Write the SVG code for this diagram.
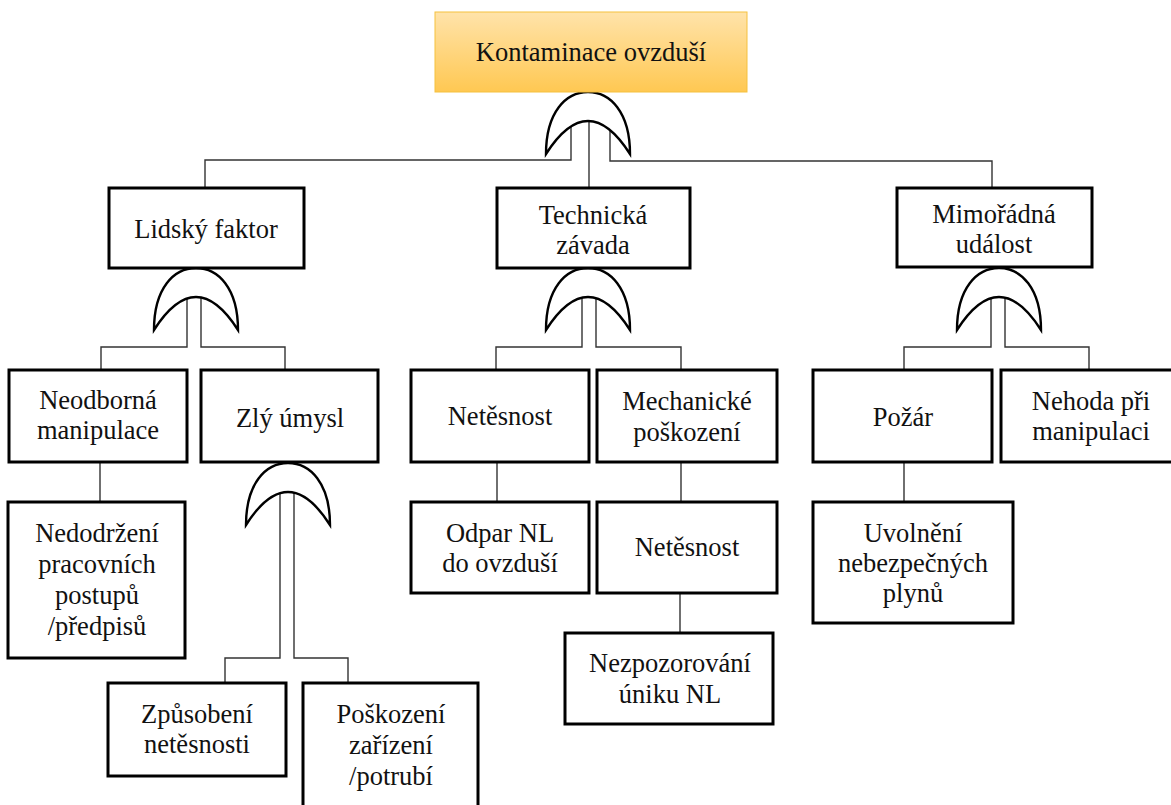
<svg xmlns="http://www.w3.org/2000/svg" xmlns:xlink="http://www.w3.org/1999/xlink" width="1171" height="805" viewBox="0 0 1171 805" font-family="Liberation Serif, DejaVu Serif, serif">
  <style>
    .box { fill: #ffffff; stroke: #000000; stroke-width: 3; }
    .top { fill: url(#topFill); stroke: #f5c13f; stroke-width: 1; }
    .lbl { font-size: 26.5px; fill: #111111; text-anchor: middle; }
    .wire { fill: none; stroke: #333333; stroke-width: 1.4; }
    .gate { fill: #ffffff; stroke: #000000; stroke-width: 2.4; stroke-linejoin: miter; }
  </style>
  <defs>
    <linearGradient id="topFill" x1="0" y1="0" x2="0" y2="1">
      <stop offset="0" stop-color="#ffe3aa"/>
      <stop offset="1" stop-color="#ffc852"/>
    </linearGradient>
    <!-- OR gate: apex at (0,0), tips at (±42, 62) -->
    <path id="orGate" class="gate" d="M -42,62 C -42,20 -22,0 0,0 C 22,0 42,20 42,62 Q 0,-4 -42,62 Z"/>
  </defs>

  <!-- connectors -->
  <g id="connectors">
    <!-- top event -->
    <polyline class="wire" points="571,126 571,160 205,160 205,188"/>
    <polyline class="wire" points="610,130 610,161 992,161 992,188"/>
    <polyline class="wire" points="589,121 589,188"/>
    <!-- Lidský faktor -->
    <polyline class="wire" points="187,299 187,347 101,347 101,370"/>
    <polyline class="wire" points="201,298 201,347 285,347 285,370"/>
    <!-- Technická závada -->
    <polyline class="wire" points="582,298 582,347 496,347 496,370"/>
    <polyline class="wire" points="596,299 596,347 681,347 681,370"/>
    <!-- Mimořádná událost -->
    <polyline class="wire" points="991,299 991,347 904,347 904,370"/>
    <polyline class="wire" points="1005,299 1005,347 1089,347 1089,370"/>
    <!-- Zlý úmysl -->
    <polyline class="wire" points="280,493 280,658 225,658 225,683"/>
    <polyline class="wire" points="294,493 294,658 348,658 348,683"/>
    <!-- single links -->
    <line class="wire" x1="100" y1="462" x2="100" y2="502"/>
    <line class="wire" x1="497" y1="462" x2="497" y2="502"/>
    <line class="wire" x1="681" y1="462" x2="681" y2="502"/>
    <line class="wire" x1="680" y1="593" x2="680" y2="633"/>
    <line class="wire" x1="904" y1="462" x2="904" y2="502"/>
  </g>

  <!-- gates -->
  <g id="gates">
    <use xlink:href="#orGate" transform="translate(588,92)"/>
    <use xlink:href="#orGate" transform="translate(196,268)"/>
    <use xlink:href="#orGate" transform="translate(588,268)"/>
    <use xlink:href="#orGate" transform="translate(999,268)"/>
    <use xlink:href="#orGate" transform="translate(288,463)"/>
  </g>

  <g id="n-kontaminace">
    <rect class="top" x="435" y="12" width="312" height="80"/>
    <text class="lbl" x="591" y="61">Kontaminace ovzduší</text>
  </g>

  <g id="n-lidsky">
    <rect class="box" x="109" y="188" width="195" height="80"/>
    <text class="lbl" x="206" y="238">Lidský faktor</text>
  </g>
  <g id="n-technicka">
    <rect class="box" x="497" y="188" width="193" height="80"/>
    <text class="lbl" x="593" y="224">Technická</text>
    <text class="lbl" x="593" y="254">závada</text>
  </g>
  <g id="n-mimoradna">
    <rect class="box" x="897" y="188" width="195" height="79"/>
    <text class="lbl" x="994" y="223">Mimořádná</text>
    <text class="lbl" x="994" y="253">událost</text>
  </g>

  <g id="n-neodborna">
    <rect class="box" x="9" y="370" width="178" height="92"/>
    <text class="lbl" x="98" y="409">Neodborná</text>
    <text class="lbl" x="98" y="439">manipulace</text>
  </g>
  <g id="n-zly">
    <rect class="box" x="201" y="370" width="177" height="92"/>
    <text class="lbl" x="290" y="427">Zlý úmysl</text>
  </g>
  <g id="n-netesnost1">
    <rect class="box" x="411" y="370" width="178" height="92"/>
    <text class="lbl" x="500" y="425">Netěsnost</text>
  </g>
  <g id="n-mechanicke">
    <rect class="box" x="597" y="370" width="180" height="92"/>
    <text class="lbl" x="687" y="410">Mechanické</text>
    <text class="lbl" x="687" y="441">poškození</text>
  </g>
  <g id="n-pozar">
    <rect class="box" x="813" y="370" width="179" height="92"/>
    <text class="lbl" x="903" y="426">Požár</text>
  </g>
  <g id="n-nehoda">
    <rect class="box" x="1001" y="370" width="179" height="92"/>
    <text class="lbl" x="1091" y="410">Nehoda při</text>
    <text class="lbl" x="1091" y="440">manipulaci</text>
  </g>

  <g id="n-nedodrzeni">
    <rect class="box" x="8" y="502" width="177" height="156"/>
    <text class="lbl" x="97" y="542">Nedodržení</text>
    <text class="lbl" x="97" y="573">pracovních</text>
    <text class="lbl" x="97" y="604">postupů</text>
    <text class="lbl" x="97" y="635">/předpisů</text>
  </g>
  <g id="n-odpar">
    <rect class="box" x="411" y="502" width="178" height="91"/>
    <text class="lbl" x="500" y="542">Odpar NL</text>
    <text class="lbl" x="500" y="572">do ovzduší</text>
  </g>
  <g id="n-netesnost2">
    <rect class="box" x="597" y="502" width="180" height="91"/>
    <text class="lbl" x="687" y="556">Netěsnost</text>
  </g>
  <g id="n-uvolneni">
    <rect class="box" x="813" y="502" width="200" height="121"/>
    <text class="lbl" x="913" y="542">Uvolnění</text>
    <text class="lbl" x="913" y="572">nebezpečných</text>
    <text class="lbl" x="913" y="602">plynů</text>
  </g>
  <g id="n-nezpozorovani">
    <rect class="box" x="565" y="633" width="208" height="91"/>
    <text class="lbl" x="670" y="672">Nezpozorování</text>
    <text class="lbl" x="670" y="703">úniku NL</text>
  </g>
  <g id="n-zpusobeni">
    <rect class="box" x="108" y="683" width="178" height="93"/>
    <text class="lbl" x="197" y="723">Způsobení</text>
    <text class="lbl" x="197" y="753">netěsnosti</text>
  </g>
  <g id="n-poskozeni">
    <rect class="box" x="303" y="683" width="175" height="132"/>
    <text class="lbl" x="391" y="723">Poškození</text>
    <text class="lbl" x="391" y="754">zařízení</text>
    <text class="lbl" x="391" y="785">/potrubí</text>
  </g>
</svg>
